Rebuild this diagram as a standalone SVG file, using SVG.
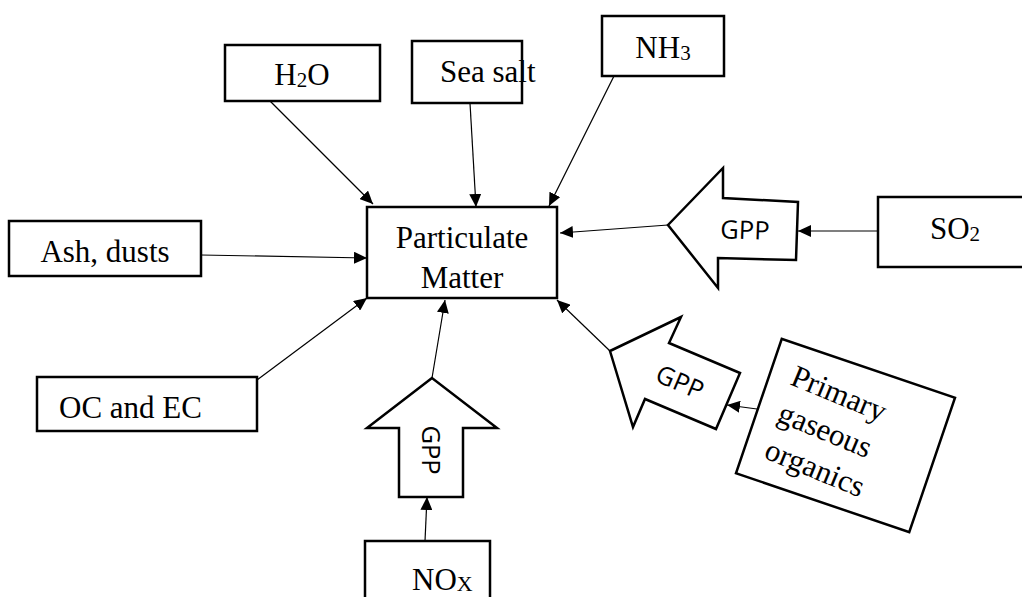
<svg xmlns="http://www.w3.org/2000/svg" width="1022" height="597" viewBox="0 0 1022 597">
<style>
.box{fill:#fff;stroke:#000;stroke-width:2.5}
.blk{fill:#fff;stroke:#000;stroke-width:2.5;stroke-linejoin:miter}
.t{font-family:"Liberation Serif","Times New Roman",serif;font-size:31px;fill:#000}
.g{font-family:"Open Sans","DejaVu Sans",sans-serif;font-size:25.5px;fill:#000}
.c{stroke:#000;stroke-width:1.2;fill:none;marker-end:url(#ah)}
</style>
<defs>
<marker id="ah" markerUnits="userSpaceOnUse" markerWidth="14" markerHeight="12" refX="13" refY="6" orient="auto">
<path d="M0,0 L13,6 L0,12 Z" fill="#000"/>
</marker>
</defs>
<rect width="1022" height="597" fill="#fff"/>
<g id="connectors">
<line class="c" x1="270" y1="101" x2="373" y2="204"/>
<line class="c" x1="470" y1="103" x2="476" y2="207"/>
<line class="c" x1="614" y1="76" x2="549" y2="206"/>
<line class="c" x1="201" y1="255" x2="367" y2="258"/>
<line class="c" x1="257" y1="380" x2="367" y2="298"/>
<line class="c" x1="668" y1="225" x2="560" y2="233"/>
<line class="c" x1="878" y1="231" x2="798" y2="231"/>
<line class="c" x1="425" y1="541" x2="427" y2="497"/>
<line class="c" x1="432" y1="378" x2="445" y2="300"/>
<line class="c" x1="757" y1="409" x2="727" y2="405"/>
<line class="c" x1="610" y1="351" x2="557" y2="300"/>
</g>
<g id="pm">
<rect class="box" x="367" y="207" width="190" height="91"/>
<text class="t" x="462" y="248" text-anchor="middle">Particulate</text>
<text class="t" x="462" y="288" text-anchor="middle">Matter</text>
</g>
<g id="h2o">
<rect class="box" x="225" y="45" width="155" height="56"/>
<text class="t" x="302" y="85" text-anchor="middle">H<tspan font-size="21" dy="2">2</tspan><tspan dy="-2">O</tspan></text>
</g>
<g id="seasalt">
<rect class="box" x="412" y="41" width="110" height="62"/>
<text class="t" x="440" y="82">Sea salt</text>
</g>
<g id="nh3">
<rect class="box" x="602" y="16" width="122" height="60"/>
<text class="t" x="663" y="58" text-anchor="middle">NH<tspan font-size="21" dy="2">3</tspan></text>
</g>
<g id="ash">
<rect class="box" x="9" y="221" width="192" height="55"/>
<text class="t" x="105" y="262" text-anchor="middle">Ash, dusts</text>
</g>
<g id="ocec">
<rect class="box" x="37" y="377" width="220" height="54"/>
<text class="t" x="59" y="418">OC and EC</text>
</g>
<g id="so2">
<rect class="box" x="878" y="197" width="160" height="70"/>
<text class="t" x="955" y="239" text-anchor="middle">SO<tspan font-size="21" dy="2">2</tspan></text>
</g>
<g id="gpp-so2">
<polygon class="blk" points="668,225 723,168 723,198 798,202 796,260 718,258 718,288"/>
<text class="g" x="745" y="239" text-anchor="middle" transform="rotate(2 745 230)">GPP</text>
</g>
<g id="nox">
<rect class="box" x="365" y="541" width="125" height="70"/>
<text class="t" x="412" y="590">NO<tspan font-size="22" dy="1">X</tspan></text>
</g>
<g id="gpp-nox">
<polygon class="blk" points="432,378 367,428 399,428 399,497 463,497 463,428 497,428"/>
<text class="g" x="431" y="459" text-anchor="middle" transform="rotate(90 431 450)">GPP</text>
</g>
<g id="primary">
<g transform="translate(845.5,435.5) rotate(18.8)">
<rect class="box" x="-91.5" y="-71" width="183" height="142"/>
</g>
<g transform="translate(845.5,435.5) rotate(22.5)">
<text class="t" x="-72" y="-26">Primary</text>
<text class="t" x="-70" y="13">gaseous</text>
<text class="t" x="-68" y="52">organics</text>
</g>
</g>
<g id="gpp-primary">
<polygon class="blk" points="610,351 681,317 669,343 740,373 716,429 645,399 633,427"/>
<text class="g" x="680" y="391" text-anchor="middle" transform="rotate(23 680 382)">GPP</text>
</g>
</svg>
